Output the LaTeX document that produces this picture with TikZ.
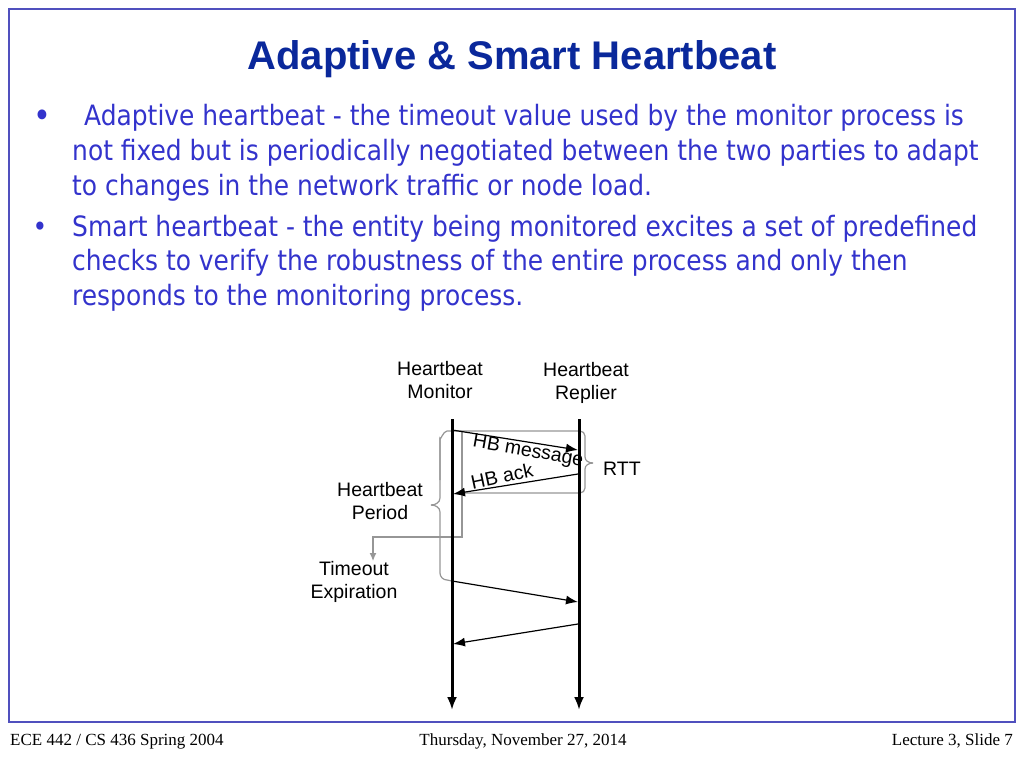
\documentclass[tikz,border=0pt]{standalone}
\usepackage{fontspec}
\setmainfont{Liberation Sans}
\newfontfamily\bodyfont[FakeStretch=0.89]{DejaVu Sans}
\newfontfamily\footfont{Liberation Serif}
\usetikzlibrary{arrows.meta}
\definecolor{framecol}{RGB}{80,80,190}
\definecolor{titlecol}{RGB}{10,40,155}
\definecolor{bodycol}{RGB}{51,51,204}
\definecolor{graycol}{RGB}{150,150,150}
\tikzset{
  bodytext/.style={anchor=base west, inner sep=0pt, text=bodycol, font=\bodyfont\fontsize{28}{34}\selectfont},
  bul/.style={anchor=base, inner sep=0pt, text=bodycol, font=\bodyfont\fontsize{28}{34}\selectfont},
  lbl/.style={align=center, inner sep=0pt, font=\fontsize{19.5}{23}\selectfont},
  foot/.style={inner sep=0pt, font=\footfont\fontsize{17}{20}\selectfont},
  timeline/.style={line width=3pt, -{Latex[length=13pt,width=10pt]}},
  msg/.style={line width=1.2pt, -{Latex[length=12pt,width=9pt]}},
  grayline/.style={graycol, line width=1.2pt},
}
\begin{document}
\begin{tikzpicture}[x=1pt,y=-1pt]
\useasboundingbox (0,0) rectangle (1024,768);
\draw[framecol, line width=1.5pt] (9,9) rectangle (1015,722);
\node[anchor=base, inner sep=0pt, text=titlecol, font=\bfseries\fontsize{40}{44}\selectfont] (title) at (512,69) {Adaptive \& Smart Heartbeat};
% bullets
\node[bul, font=\bodyfont\fontsize{34}{34}\selectfont] (b1) at (42,127) {•};
\node[bodytext] (l1) at (84,125) {Adaptive heartbeat - the timeout value used by the monitor process is};
\node[bodytext] (l2) at (72,160) {not fixed but is periodically negotiated between the two parties to adapt};
\node[bodytext] (l3) at (72,195) {to changes in the network traffic or node load.};
\node[bul] (b2) at (40,236) {•};
\node[bodytext] (l4) at (72,236) {Smart heartbeat - the entity being monitored excites a set of predefined};
\node[bodytext] (l5) at (72,270) {checks to verify the robustness of the entire process and only then};
\node[bodytext] (l6) at (72,305) {responds to the monitoring process.};
% diagram labels
\node[lbl] (mon) at (440,380) {Heartbeat\\Monitor};
\node[lbl] (rep) at (586,383) {Heartbeat\\Replier};
\node[lbl] (per) at (380,501) {Heartbeat\\Period};
\node[lbl] (tmo) at (354,582) {Timeout\\Expiration};
\node[lbl] (rtt) at (622,469) {RTT};
% coordinates
\coordinate (mt) at (452,419);
\coordinate (mb) at (452,710);
\coordinate (rt) at (579,419);
\coordinate (rb) at (579,710);
\coordinate (m1s) at (452,430);
\coordinate (m1e) at (578,450);
\coordinate (a1s) at (578,474);
\coordinate (a1e) at (453,494);
\coordinate (m2s) at (452,581);
\coordinate (m2e) at (578,602);
\coordinate (a2s) at (578,624);
\coordinate (a2e) at (453,644);
\coordinate (g1) at (462,431);
\coordinate (g2) at (462,537);
\coordinate (g3) at (373,537);
\coordinate (g4) at (373,561);
% gray shapes
\draw[grayline] (440,480) -- (440,438) to[out=-90,in=180] (447,431) -- (580,431) to[out=0,in=90] (585,436) -- (585,457) to[out=-90,in=180] (593,463);
\draw[grayline] (593,463) to[out=180,in=90] (585,469) -- (585,488) to[out=-90,in=0] (580,493) -- (462,493);
\draw[grayline] (440,438) -- (440,498) to[out=-90,in=0] (431,505);
\draw[grayline] (431,505) to[out=0,in=90] (440,512) -- (440,573) to[out=-90,in=180] (447,580) -- (452,581);
\draw[grayline, -{Latex[length=8pt,width=7pt]}] (g1) -- (g2) -- (g3) -- (g4);
% timelines
\draw[timeline] (mt) -- (mb);
\draw[timeline] (rt) -- (rb);
% messages
\draw[msg] (m1s) -- (m1e);
\draw[msg] (a1s) -- (a1e);
\draw[msg] (m2s) -- (m2e);
\draw[msg] (a2s) -- (a2e);
\node[lbl, rotate=-10] (hbm) at (528,452) {HB message};
\node[lbl, rotate=12] (hba) at (502,476) {HB ack};
% footer
\node[foot, anchor=base west] (f1) at (10,745) {ECE 442 / CS 436 Spring 2004};
\node[foot, anchor=base] (f2) at (523,745) {Thursday, November 27, 2014};
\node[foot, anchor=base east] (f3) at (1013,745) {Lecture 3, Slide 7};
\end{tikzpicture}
\end{document}
